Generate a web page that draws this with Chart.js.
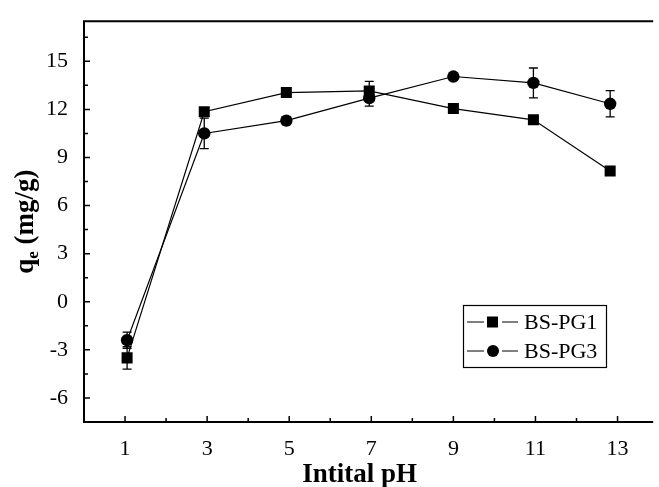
<!DOCTYPE html>
<html>
<head>
<meta charset="utf-8">
<title>qe vs initial pH</title>
<script src="https://cdn.jsdelivr.net/npm/chart.js@4.4.1/dist/chart.umd.min.js"></script>
<style>
  html, body { margin: 0; padding: 0; background: #fff; }
  #wrap { width: 659px; height: 487px; }
</style>
</head>
<body>
<div id="wrap"><canvas id="myChart" width="659" height="487"></canvas></div>
<script>
// adsorption capacity against initial pH
const phPG1 = [1.05, 2.93, 4.93, 6.95, 9.0, 10.95, 12.82];
const qePG1 = [-3.5, 11.85, 13.05, 13.15, 12.05, 11.35, 8.15];
const errPG1 = [0.7, 0, 0, 0.6, 0, 0, 0];

const phPG3 = [1.05, 2.93, 4.93, 6.95, 9.0, 10.95, 12.82];
const qePG3 = [-2.4, 10.5, 11.3, 12.7, 14.05, 13.65, 12.35];
const errPG3 = [0.5, 0.95, 0.25, 0.5, 0, 0.93, 0.82];

const xTicks = [1, 3, 5, 7, 9, 11, 13];
const xMinor = [2, 4, 6, 8, 10, 12];
const yTicks = [-6, -3, 0, 3, 6, 9, 12, 15];
const yMinor = [-4.5, -1.5, 1.5, 4.5, 7.5, 10.5, 13.5, 16.5];

const serif = "'Times New Roman', 'Liberation Serif', serif";

function toPoints(xs, ys, errs) {
  return xs.map((x, i) => ({ x: x, y: ys[i], err: errs[i] }));
}

// axes frame with inward ticks
const framePlugin = {
  id: 'frame',
  afterDraw(chart) {
    const ctx = chart.ctx;
    const a = chart.chartArea;
    const xs = chart.scales.x, ys = chart.scales.y;
    ctx.save();
    ctx.strokeStyle = '#000';
    ctx.lineWidth = 2;
    ctx.beginPath();
    ctx.moveTo(a.right + 2, a.top);
    ctx.lineTo(a.left, a.top);
    ctx.lineTo(a.left, a.bottom);
    ctx.lineTo(a.right + 2, a.bottom);
    ctx.stroke();
    ctx.lineWidth = 1.5;
    ctx.beginPath();
    xTicks.forEach(v => { const p = xs.getPixelForValue(v); ctx.moveTo(p, a.bottom); ctx.lineTo(p, a.bottom - 6); });
    xMinor.forEach(v => { const p = xs.getPixelForValue(v); ctx.moveTo(p, a.bottom); ctx.lineTo(p, a.bottom - 4); });
    yTicks.forEach(v => { const p = ys.getPixelForValue(v); ctx.moveTo(a.left, p); ctx.lineTo(a.left + 6, p); });
    yMinor.forEach(v => { const p = ys.getPixelForValue(v); ctx.moveTo(a.left, p); ctx.lineTo(a.left + 4, p); });
    ctx.stroke();

    // axis titles
    ctx.fillStyle = '#000';
    ctx.font = 'bold 27px ' + serif;
    ctx.textAlign = 'center';
    ctx.textBaseline = 'alphabetic';
    ctx.fillText('Intital pH', (a.left + a.right) / 2 - 8, 482);

    ctx.translate(33, (a.top + a.bottom) / 2);
    ctx.rotate(-Math.PI / 2);
    const big = 'bold 27px ' + serif, small = 'bold 17px ' + serif;
    ctx.font = big; const wq = ctx.measureText('q').width;
    ctx.font = small; const we = ctx.measureText('e').width;
    ctx.font = big; const wr = ctx.measureText(' (mg/g)').width;
    let x0 = -(wq + we + wr) / 2;
    ctx.textAlign = 'left';
    ctx.font = big; ctx.fillText('q', x0, 0);
    ctx.font = small; ctx.fillText('e', x0 + wq, 5);
    ctx.font = big; ctx.fillText(' (mg/g)', x0 + wq + we, 0);
    ctx.restore();
  }
};

// vertical error bars with caps
const errorBarPlugin = {
  id: 'errorBars',
  afterDatasetsDraw(chart) {
    const ctx = chart.ctx;
    const xs = chart.scales.x, ys = chart.scales.y;
    ctx.save();
    ctx.strokeStyle = '#000';
    ctx.lineWidth = 1.3;
    chart.data.datasets.forEach(ds => {
      ds.data.forEach(pt => {
        if (!pt.err) return;
        const px = xs.getPixelForValue(pt.x);
        const top = ys.getPixelForValue(pt.y + pt.err);
        const bot = ys.getPixelForValue(pt.y - pt.err);
        ctx.beginPath();
        ctx.moveTo(px, top); ctx.lineTo(px, bot);
        ctx.moveTo(px - 4.5, top); ctx.lineTo(px + 4.5, top);
        ctx.moveTo(px - 4.5, bot); ctx.lineTo(px + 4.5, bot);
        ctx.stroke();
      });
    });
    ctx.restore();
  }
};

// boxed legend inside the plot
const boxLegend = {
  id: 'boxLegend',
  afterDraw(chart) {
    const ctx = chart.ctx;
    ctx.save();
    ctx.strokeStyle = '#000';
    ctx.lineWidth = 1.2;
    ctx.strokeRect(463.5, 305.5, 143, 62);
    ctx.font = '22px ' + serif;
    ctx.textBaseline = 'middle';
    ctx.textAlign = 'left';
    ctx.fillStyle = '#000';
    chart.data.datasets.forEach((ds, i) => {
      const y = 322 + i * 29;
      ctx.lineWidth = 1;
      ctx.beginPath();
      ctx.moveTo(467, y); ctx.lineTo(484, y);
      ctx.moveTo(502, y); ctx.lineTo(518, y);
      ctx.stroke();
      if (ds.pointStyle === 'rect') {
        ctx.fillRect(487, y - 5.5, 11, 11);
      } else {
        ctx.beginPath(); ctx.arc(493, y, 6, 0, Math.PI * 2); ctx.fill();
      }
      ctx.fillText(ds.label, 524, y + 1);
    });
    ctx.restore();
  }
};

new Chart(document.getElementById('myChart'), {
  type: 'scatter',
  data: {
    datasets: [{
      label: 'BS-PG1',
      data: toPoints(phPG1, qePG1, errPG1),
      showLine: true,
      borderColor: '#000',
      borderWidth: 1.2,
      backgroundColor: '#000',
      pointStyle: 'rect',
      pointRadius: 7.8,
      pointBorderWidth: 0
    }, {
      label: 'BS-PG3',
      data: toPoints(phPG3, qePG3, errPG3),
      showLine: true,
      borderColor: '#000',
      borderWidth: 1.2,
      backgroundColor: '#000',
      pointStyle: 'circle',
      pointRadius: 6.2,
      pointBorderWidth: 0
    }]
  },
  options: {
    responsive: false,
    animation: false,
    devicePixelRatio: 1,
    layout: { padding: { top: 11.7, right: 0, left: 0, bottom: 0 } },
    plugins: { legend: { display: false }, tooltip: { enabled: false } },
    scales: {
      x: {
        type: 'linear',
        min: 0,
        max: 13.82,
        grid: { display: false },
        border: { display: false },
        afterFit(s) { s.height = 65; },
        afterBuildTicks(s) { s.ticks = xTicks.map(v => ({ value: v })); },
        ticks: { color: '#000', padding: 6, font: { family: serif, size: 22 } }
      },
      y: {
        min: -7.5,
        max: 17.5,
        grid: { display: false },
        border: { display: false },
        afterFit(s) { s.width = 84; },
        afterBuildTicks(s) { s.ticks = yTicks.map(v => ({ value: v })); },
        ticks: { color: '#000', padding: 8, font: { family: serif, size: 22 } }
      }
    }
  },
  plugins: [framePlugin, errorBarPlugin, boxLegend]
});
</script>
</body>
</html>
